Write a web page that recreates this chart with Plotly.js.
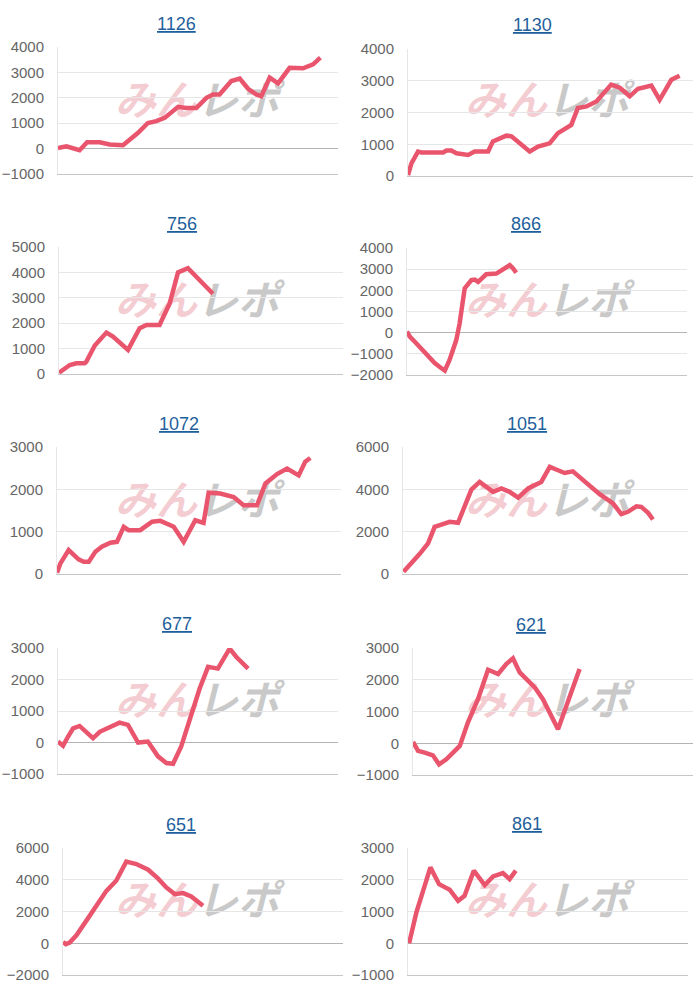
<!DOCTYPE html>
<html>
<head>
<meta charset="utf-8">
<script src="https://cdn.plot.ly/plotly-3.0.1.min.js"></script>
<style>
html,body{margin:0;padding:0;background:#fff;}
#chart{width:700px;height:1000px;}
</style>
</head>
<body>
<div id="chart"></div>
<script>
// ---- chart titles ----
const titles = ['1126', '1130', '756', '866', '1072', '1051', '677', '621', '651', '861'];

// ---- series (x = position along game axis, 0-100 ; y = difference) ----
const x_1126 = [0, 3, 7.7, 10.4, 14.9, 18.5, 23.2, 25.6, 28.6, 32.1, 35.1, 38.1, 42.9, 45.8, 49.4, 53, 55.4, 57.7, 61.9, 64.9, 67.9, 70.8, 72.6, 75.6, 78.6, 82.7, 87.5, 91.1, 93.7];
const y_1126 = [26, 90, -65, 250, 250, 160, 130, 355, 620, 1010, 1080, 1210, 1645, 1600, 1600, 2000, 2130, 2130, 2660, 2760, 2355, 2130, 2065, 2790, 2565, 3180, 3160, 3315, 3580];

const x_1130 = [0, 1.2, 3.5, 4.7, 12.3, 13.5, 15.2, 17, 21.1, 23.4, 28.1, 29.8, 34.5, 36.3, 42.7, 45.6, 49.7, 52.6, 57.3, 59.6, 62.6, 66.1, 71.3, 74.3, 77.8, 80.7, 85.4, 88.3, 92.4, 95.3];
const y_1130 = [30, 400, 770, 740, 740, 800, 800, 715, 665, 770, 770, 1090, 1270, 1250, 770, 930, 1030, 1350, 1610, 2140, 2190, 2350, 2880, 2780, 2510, 2750, 2850, 2400, 3030, 3160];

const x_756 = [0, 1.4, 3.8, 6.1, 9, 9.6, 12.6, 16.7, 19, 24.3, 28.4, 30.8, 35.4, 39, 41.9, 45.4, 48.9, 54.2];
const y_756 = [50, 160, 355, 420, 420, 480, 1120, 1630, 1470, 950, 1800, 1930, 1930, 2790, 4000, 4170, 3780, 3160];

const x_866 = [0, 1, 3.3, 6.9, 9.9, 12.3, 13.5, 15.2, 17.6, 18.8, 20.6, 23, 24.2, 25.4, 28.3, 31.9, 33.7, 36.7, 37.9, 39];
const y_866 = [50, -190, -500, -1050, -1440, -1680, -1790, -1290, -350, 440, 2090, 2480, 2510, 2400, 2760, 2790, 2950, 3190, 3030, 2830];

const x_1072 = [0, 1.2, 4.1, 7.6, 9.4, 11.2, 13.5, 15.8, 18.8, 21.1, 23.5, 25.2, 29.3, 33.5, 36.4, 41.1, 44.6, 48.7, 51.6, 53.4, 57.5, 62.2, 65.7, 70.4, 73.4, 77.5, 81, 85.1, 87.4, 89.2];
const y_1072 = [30, 250, 565, 345, 290, 290, 525, 645, 740, 760, 1115, 1035, 1035, 1235, 1255, 1115, 760, 1270, 1210, 1920, 1900, 1820, 1625, 1625, 2140, 2360, 2490, 2330, 2650, 2740];

const x_1051 = [0.2, 2.9, 5.8, 8.8, 11.1, 14, 16.4, 19.3, 21.6, 24, 26.9, 31.6, 34.5, 37.4, 40.4, 43.9, 48.5, 51.5, 54.4, 56.7, 59.6, 65.5, 69, 73.7, 76.6, 78.9, 81.9, 83.6, 86, 87.7];
const y_1051 = [110, 500, 940, 1445, 2230, 2355, 2465, 2420, 3250, 3990, 4350, 3880, 4040, 3880, 3610, 4040, 4350, 5060, 4900, 4770, 4850, 4190, 3770, 3330, 2830, 2940, 3200, 3170, 2890, 2575];

const x_677 = [0, 1.8, 3.6, 5.4, 7.7, 12.5, 14.9, 19, 22, 25, 28.6, 32.1, 35.7, 38.7, 41.1, 44, 47.6, 50.6, 53.6, 57.1, 61.3, 63.7, 67.9];
const y_677 = [30, -105, 190, 450, 525, 135, 340, 505, 630, 560, 0, 30, -440, -650, -675, -125, 925, 1715, 2400, 2345, 2980, 2715, 2345];

const x_621 = [0, 1.8, 4.2, 7.1, 9.3, 11.9, 14.3, 16.7, 19.6, 23.2, 26.8, 30.4, 33.3, 35.7, 38.1, 43.5, 46.4, 51.8, 54.8, 59.5];
const y_621 = [40, -240, -295, -380, -665, -505, -295, -85, 650, 1390, 2315, 2180, 2495, 2675, 2230, 1760, 1390, 440, 1180, 2340];

const x_651 = [0, 1, 2.4, 4.8, 8.3, 11.9, 15.5, 19, 22.6, 26.2, 30.4, 33.9, 36.9, 39.9, 42.9, 45.8, 50];
const y_651 = [85, -60, 40, 505, 1410, 2360, 3300, 3940, 5140, 4990, 4630, 4085, 3515, 3095, 3160, 2950, 2360];

const x_861 = [0.4, 3, 8, 11.1, 14.9, 17.9, 20.2, 23.5, 27.4, 30.4, 33.9, 36.3, 38.5];
const y_861 = [0, 970, 2390, 1860, 1685, 1335, 1495, 2285, 1830, 2105, 2210, 2020, 2285];

// ---- y tick labels ----
const yticks_1126 = [-1000, 0, 1000, 2000, 3000, 4000];
const yticks_1130 = [0, 1000, 2000, 3000, 4000];
const yticks_756 = [0, 1000, 2000, 3000, 4000, 5000];
const yticks_866 = [-2000, -1000, 0, 1000, 2000, 3000, 4000];
const yticks_1072 = [0, 1000, 2000, 3000];
const yticks_1051 = [0, 2000, 4000, 6000];
const yticks_677 = [-1000, 0, 1000, 2000, 3000];
const yticks_621 = [-1000, 0, 1000, 2000, 3000];
const yticks_651 = [-2000, 0, 2000, 4000, 6000];
const yticks_861 = [-1000, 0, 1000, 2000, 3000];

const xs = [x_1126, x_1130, x_756, x_866, x_1072, x_1051, x_677, x_621, x_651, x_861];
const ys = [y_1126, y_1130, y_756, y_866, y_1072, y_1051, y_677, y_621, y_651, y_861];
const yticks = [yticks_1126, yticks_1130, yticks_756, yticks_866, yticks_1072, yticks_1051, yticks_677, yticks_621, yticks_651, yticks_861];

// ---- layout geometry (pixels): plot box left, right, top, bottom ----
const W = 700, H = 1000;
const boxes = [
  [58, 338, 47, 174], [408, 693, 49, 176],
  [59, 343, 247, 374], [407, 687, 248, 375],
  [57, 341, 447, 574], [403, 688, 447, 574],
  [58, 338, 648, 774], [413, 693, 648, 775],
  [63, 343, 848, 975], [408, 688, 848, 975]
];
const titlePos = [
  [177, 24], [532, 25], [182, 224], [526, 224], [179, 424],
  [527, 424], [177, 624], [531, 625], [181, 825], [527, 824]
];

const LINE_COLOR = 'rgb(234,85,110)';
const FONT = 'Liberation Sans, Arial, sans-serif';

const data = [];
const layout = {
  width: W, height: H,
  margin: {l: 0, r: 0, t: 0, b: 0},
  paper_bgcolor: '#fff',
  plot_bgcolor: 'rgba(0,0,0,0)',
  showlegend: false,
  annotations: [],
  shapes: []
};

for (let i = 0; i < 10; i++) {
  const n = i === 0 ? '' : String(i + 1);
  const [L, R, T, B] = boxes[i];
  const tv = yticks[i];
  data.push({
    x: xs[i], y: ys[i],
    xaxis: 'x' + n, yaxis: 'y' + n,
    type: 'scatter', mode: 'lines',
    line: {color: LINE_COLOR, width: 4.5},
    hoverinfo: 'skip'
  });
  layout['xaxis' + n] = {
    domain: [L / W, R / W],
    range: [0, 100],
    anchor: 'y' + n,
    showgrid: false, zeroline: false, showticklabels: false,
    showline: true, linecolor: '#c6c6c6', linewidth: 1,
    fixedrange: true
  };
  layout['yaxis' + n] = {
    domain: [1 - B / H, 1 - T / H],
    range: [tv[0], tv[tv.length - 1]],
    anchor: 'x' + n,
    tickmode: 'array', tickvals: tv,
    showgrid: true, gridcolor: '#e6e6e6', gridwidth: 1,
    zeroline: true, zerolinecolor: '#b4b4b4', zerolinewidth: 1,
    showline: true, linecolor: '#e6e6e6', linewidth: 1,
    ticks: '', ticklabelstandoff: 10,
    tickfont: {family: FONT, size: 15, color: '#666'},
    fixedrange: true
  };
  const [tx, ty] = titlePos[i];
  layout.annotations.push({
    xref: 'paper', yref: 'paper', x: tx / W, y: 1 - ty / H,
    xanchor: 'center', yanchor: 'middle', showarrow: false,
    text: '<u>' + titles[i] + '</u>',
    font: {family: FONT, size: 18, color: '#1f5f9c'}
  });
  // watermark logo (drawn beneath the line)
  const ox = (i % 2) * 350, oy = Math.floor(i / 2) * 200;
  layout.shapes.push({
    type: 'rect', xref: 'paper', yref: 'paper',
    x0: (ox + 110) / W, x1: (ox + 284) / W,
    y0: 1 - (oy + 122) / H, y1: 1 - (oy + 86) / H,
    line: {width: 0}, fillcolor: 'rgba(0,0,0,0)', layer: 'below',
    label: {
      text: '<b><i><span style="color:rgba(232,150,160,0.62)">みん</span><span style="color:rgba(160,160,160,0.75)">レポ</span></i></b>',
      textposition: 'middle center',
      font: {family: 'Noto Sans CJK JP, sans-serif', size: 41, weight: 900, color: 'rgba(160,160,160,0.75)'}
    }
  });
}

Plotly.newPlot('chart', data, layout, {displayModeBar: false, staticPlot: true});
</script>
</body>
</html>
